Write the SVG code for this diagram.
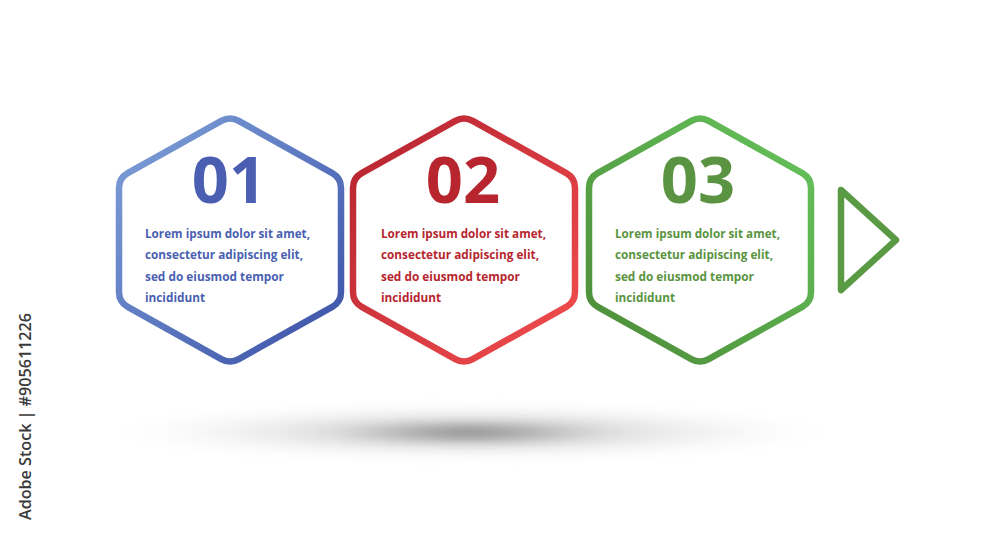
<svg xmlns="http://www.w3.org/2000/svg" width="1000" height="545" viewBox="0 0 1000 545">
  <defs>
    <linearGradient id="gBlue" x1="0" y1="0" x2="1" y2="1">
      <stop offset="0" stop-color="#7fa2da"/>
      <stop offset="1" stop-color="#3a4fa6"/>
    </linearGradient>
    <linearGradient id="gRed" x1="0" y1="0" x2="1" y2="1">
      <stop offset="0" stop-color="#b3232f"/>
      <stop offset="1" stop-color="#f44e4e"/>
    </linearGradient>
    <linearGradient id="gGreen" x1="0" y1="1" x2="1" y2="0">
      <stop offset="0" stop-color="#4c8b38"/>
      <stop offset="1" stop-color="#66c45c"/>
    </linearGradient>
    <radialGradient id="gShadow" cx="0.5" cy="0.5" r="0.5">
      <stop offset="0" stop-color="#8a8a8a" stop-opacity="0.95"/>
      <stop offset="0.3" stop-color="#bdbdbd" stop-opacity="0.65"/>
      <stop offset="1" stop-color="#ffffff" stop-opacity="0"/>
    </radialGradient>
    <radialGradient id="gCore" cx="0.5" cy="0.5" r="0.5">
      <stop offset="0" stop-color="#707070" stop-opacity="0.7"/>
      <stop offset="1" stop-color="#a0a0a0" stop-opacity="0"/>
    </radialGradient>
    <filter id="blur" x="-20%" y="-100%" width="140%" height="300%">
      <feGaussianBlur stdDeviation="6"/>
    </filter>
    <path id="hex" d="M-8.7,-119.1 Q0,-124 8.7,-119.1 L102.3,-66.9 Q111,-62 111,-52 L111,52 Q111,62 102.3,66.9 L8.7,119.1 Q0,124 -8.7,119.1 L-102.3,66.9 Q-111,62 -111,52 L-111,-52 Q-111,-62 -102.3,-66.9 Z"/>
  </defs>
  <style>
    .hex { fill: #ffffff; stroke-width: 6.5; stroke-linejoin: round; }
    .num { font-family: "Open Sans", "DejaVu Sans", sans-serif; font-weight: 700; font-size: 65px; text-anchor: middle; }
    .body { font-family: "Open Sans", "DejaVu Sans", sans-serif; font-weight: 700; font-size: 12.8px; }
    .blue { fill: #4a5fb2; }
    .red { fill: #b7262f; }
    .green { fill: #5a9442; }
    .wm { font-family: "Open Sans", "DejaVu Sans", sans-serif; font-weight: 600; font-size: 17px; fill: #3a3a3a; }
  </style>
  <rect width="1000" height="545" fill="#ffffff"/>

  <g id="shadow">
    <ellipse cx="470" cy="432" rx="390" ry="30" fill="url(#gShadow)" filter="url(#blur)"/>
    <ellipse cx="468" cy="433" rx="150" ry="9" fill="url(#gCore)" filter="url(#blur)"/>
  </g>

  <g id="node-01">
    <use href="#hex" class="hex" stroke="url(#gBlue)" transform="translate(230,240)"/>
    <text class="num blue" x="229" y="203">01</text>
    <text class="body blue">
      <tspan x="145" y="238" textLength="165" lengthAdjust="spacingAndGlyphs">Lorem ipsum dolor sit amet,</tspan>
      <tspan x="145" y="259" textLength="158" lengthAdjust="spacingAndGlyphs">consectetur adipiscing elit,</tspan>
      <tspan x="145" y="281" textLength="139" lengthAdjust="spacingAndGlyphs">sed do eiusmod tempor</tspan>
      <tspan x="145" y="302" textLength="60" lengthAdjust="spacingAndGlyphs">incididunt</tspan>
    </text>
  </g>

  <g id="node-02">
    <use href="#hex" class="hex" stroke="url(#gRed)" transform="translate(464,240)"/>
    <text class="num red" x="463" y="203">02</text>
    <text class="body red">
      <tspan x="381" y="238" textLength="165" lengthAdjust="spacingAndGlyphs">Lorem ipsum dolor sit amet,</tspan>
      <tspan x="381" y="259" textLength="158" lengthAdjust="spacingAndGlyphs">consectetur adipiscing elit,</tspan>
      <tspan x="381" y="281" textLength="139" lengthAdjust="spacingAndGlyphs">sed do eiusmod tempor</tspan>
      <tspan x="381" y="302" textLength="60" lengthAdjust="spacingAndGlyphs">incididunt</tspan>
    </text>
  </g>

  <g id="node-03">
    <use href="#hex" class="hex" stroke="url(#gGreen)" transform="translate(700,240)"/>
    <text class="num green" x="698" y="203">03</text>
    <text class="body green">
      <tspan x="615" y="238" textLength="165" lengthAdjust="spacingAndGlyphs">Lorem ipsum dolor sit amet,</tspan>
      <tspan x="615" y="259" textLength="158" lengthAdjust="spacingAndGlyphs">consectetur adipiscing elit,</tspan>
      <tspan x="615" y="281" textLength="139" lengthAdjust="spacingAndGlyphs">sed do eiusmod tempor</tspan>
      <tspan x="615" y="302" textLength="60" lengthAdjust="spacingAndGlyphs">incididunt</tspan>
    </text>
  </g>

  <g id="connectors">
    <polygon id="arrow" points="841,190 896,240 841,290" fill="none" stroke="#5a9a44" stroke-width="6.5" stroke-linejoin="round"/>
  </g>

  <g id="watermark">
    <text class="wm" transform="translate(31,520) rotate(-90)" x="0" y="0" textLength="207" lengthAdjust="spacingAndGlyphs">Adobe Stock | #905611226</text>
  </g>
</svg>
